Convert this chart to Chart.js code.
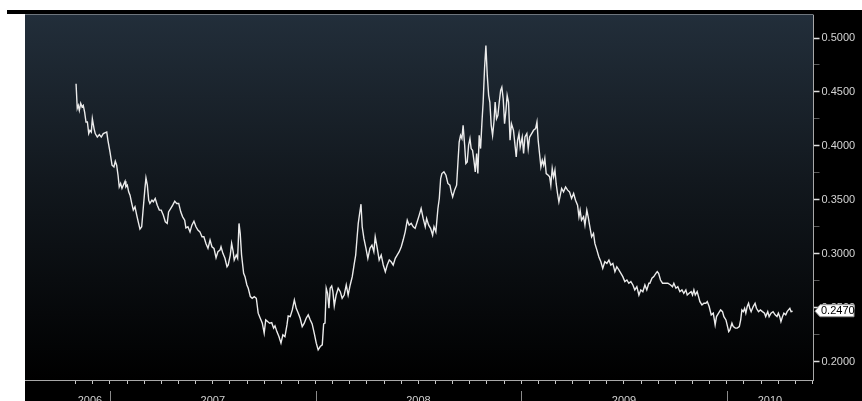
<!DOCTYPE html>
<html>
<head>
<meta charset="utf-8">
<script src="https://cdn.jsdelivr.net/npm/chart.js@4.4.1/dist/chart.umd.min.js"></script>
<style>
    html, body { margin: 0; padding: 0; background: #ffffff; overflow: hidden; }
    #wrap { position: relative; width: 862px; height: 412px; }
</style>
</head>
<body>
<div id="wrap"><canvas id="rate-chart"></canvas></div>
<script>
// x = months since Jan 2006, y = rate
const months = [
    10.02,10.09,10.15,10.21,10.29,10.37,10.44,10.52,10.60,10.68,10.76,10.83,10.91,10.97,11.07,11.14,11.26,11.38,11.49,11.61,
    11.73,11.81,11.88,12.00,12.12,12.23,12.31,12.39,12.47,12.54,12.62,12.70,12.78,12.88,12.93,13.01,13.09,13.17,13.27,13.36,
    13.46,13.56,13.65,13.75,13.85,13.94,14.04,14.10,14.18,14.26,14.33,14.45,14.53,14.64,14.76,14.88,14.99,15.11,15.23,15.34,
    15.42,15.54,15.66,15.78,15.89,16.01,16.13,16.24,16.36,16.43,16.55,16.67,16.78,16.90,17.02,17.13,17.25,17.37,17.48,17.60,
    17.72,17.84,17.95,18.07,18.19,18.30,18.42,18.48,18.59,18.71,18.83,18.90,19.02,19.10,19.19,19.25,19.37,19.45,19.53,19.60,
    19.68,19.80,19.88,19.99,20.07,20.19,20.30,20.42,20.54,20.65,20.77,20.89,21.00,21.09,21.20,21.32,21.44,21.55,21.63,21.74,
    21.86,21.98,22.09,22.21,22.33,22.40,22.52,22.64,22.76,22.87,22.99,23.10,23.22,23.34,23.45,23.57,23.69,23.80,23.92,24.04,
    24.15,24.27,24.39,24.47,24.55,24.62,24.70,24.78,24.85,24.94,25.01,25.09,25.20,25.32,25.44,25.55,25.67,25.79,25.90,26.02,
    26.14,26.26,26.34,26.41,26.49,26.57,26.65,26.72,26.82,26.94,27.05,27.17,27.29,27.40,27.48,27.60,27.71,27.83,27.95,28.07,
    28.18,28.30,28.41,28.53,28.65,28.76,28.88,29.00,29.11,29.23,29.35,29.46,29.58,29.70,29.81,29.93,30.05,30.16,30.28,30.40,
    30.48,30.60,30.71,30.83,30.91,31.02,31.14,31.22,31.30,31.37,31.49,31.61,31.72,31.84,31.92,32.00,32.11,32.23,32.31,32.38,
    32.46,32.54,32.61,32.70,32.77,32.85,32.93,33.01,33.08,33.16,33.24,33.32,33.40,33.47,33.55,33.63,33.71,33.78,33.86,33.94,
    34.02,34.10,34.17,34.25,34.33,34.41,34.48,34.56,34.64,34.72,34.80,34.87,34.95,35.03,35.11,35.18,35.26,35.35,35.43,35.55,
    35.63,35.71,35.79,35.87,35.94,36.06,36.14,36.22,36.33,36.41,36.49,36.61,36.72,36.84,36.92,36.99,37.07,37.15,37.23,37.31,
    37.38,37.46,37.58,37.66,37.73,37.81,37.89,37.97,38.04,38.12,38.20,38.28,38.36,38.47,38.59,38.71,38.82,38.94,39.06,39.17,
    39.29,39.37,39.44,39.52,39.64,39.72,39.83,39.91,39.99,40.11,40.22,40.30,40.42,40.53,40.65,40.76,40.88,41.00,41.12,41.23,
    41.35,41.47,41.58,41.70,41.82,41.93,42.05,42.17,42.28,42.40,42.52,42.63,42.75,42.87,42.98,43.10,43.22,43.33,43.45,43.51,
    43.63,43.74,43.86,43.94,44.02,44.13,44.25,44.40,44.56,44.72,44.83,44.91,45.03,45.14,45.26,45.38,45.49,45.61,45.69,45.80,
    45.92,46.00,46.08,46.16,46.27,46.35,46.43,46.55,46.66,46.78,46.86,46.97,47.09,47.21,47.32,47.40,47.52,47.64,47.75,47.83,
    47.95,48.02,48.11,48.18,48.30,48.38,48.50,48.61,48.73,48.81,48.88,48.96,49.04,49.11,49.19,49.27,49.34,49.42,49.54,49.65,
    49.73,49.85,49.96,50.08,50.20,50.27,50.39,50.47,50.58,50.70,50.82,50.93,51.01,51.09,51.16,51.25,51.33,51.44,51.52,51.60,
    51.68,51.75,51.84
];

const rates = [
    0.4577,0.4348,0.4376,0.4330,0.4395,0.4361,0.4376,0.4314,0.4222,0.4222,0.4115,0.4145,0.4129,0.4253,0.4161,0.4115,0.4083,0.4106,0.4083,0.4115,
    0.4124,0.4129,0.4053,0.3945,0.3822,0.3806,0.3859,0.3822,0.3729,0.3621,0.3653,0.3607,0.3637,0.3674,0.3621,0.3637,0.3575,0.3545,0.3468,0.3406,
    0.3436,0.3360,0.3298,0.3230,0.3252,0.3421,0.3607,0.3704,0.3637,0.3498,0.3468,0.3498,0.3483,0.3514,0.3452,0.3406,0.3406,0.3360,0.3298,0.3283,
    0.3390,0.3421,0.3452,0.3489,0.3468,0.3468,0.3390,0.3344,0.3313,0.3242,0.3252,0.3205,0.3267,0.3304,0.3252,0.3221,0.3205,0.3159,0.3159,0.3098,
    0.3052,0.3129,0.3067,0.3052,0.2965,0.3021,0.3036,0.3067,0.3006,0.2960,0.2882,0.2898,0.2990,0.3098,0.3021,0.2944,0.2990,0.2960,0.3283,0.3191,
    0.2990,0.2821,0.2790,0.2713,0.2683,0.2605,0.2590,0.2605,0.2590,0.2452,0.2405,0.2359,0.2267,0.2389,0.2374,0.2359,0.2364,0.2313,0.2334,0.2281,
    0.2235,0.2174,0.2251,0.2235,0.2343,0.2426,0.2420,0.2482,0.2574,0.2497,0.2452,0.2405,0.2327,0.2359,0.2405,0.2436,0.2389,0.2352,0.2267,0.2174,
    0.2112,0.2143,0.2158,0.2352,0.2359,0.2683,0.2636,0.2497,0.2683,0.2704,0.2651,0.2519,0.2620,0.2683,0.2651,0.2590,0.2620,0.2713,0.2620,0.2713,
    0.2790,0.2913,0.2990,0.3129,0.3283,0.3375,0.3461,0.3252,0.3144,0.3052,0.2960,0.3052,0.3082,0.3021,0.3159,0.3052,0.2944,0.2990,0.2898,0.2836,
    0.2898,0.2944,0.2928,0.2898,0.2960,0.2990,0.3021,0.3067,0.3129,0.3205,0.3313,0.3267,0.3283,0.3252,0.3237,0.3298,0.3360,0.3421,0.3329,0.3252,
    0.3329,0.3267,0.3237,0.3175,0.3252,0.3205,0.3421,0.3514,0.3699,0.3745,0.3760,0.3729,0.3653,0.3637,0.3575,0.3529,0.3591,0.3637,0.3852,0.4037,
    0.4099,0.4069,0.4191,0.4007,0.3838,0.3852,0.4007,0.4069,0.3976,0.3960,0.3868,0.3760,0.3930,0.3745,0.4099,0.3976,0.4222,0.4407,0.4715,0.4931,
    0.4653,0.4469,0.4407,0.4191,0.4099,0.4222,0.4407,0.4253,0.4284,0.4407,0.4515,0.4545,0.4438,0.4207,0.4330,0.4469,0.4407,0.4053,0.4207,0.4145,
    0.4022,0.3899,0.4053,0.4115,0.3991,0.4083,0.3930,0.4083,0.4115,0.3976,0.4083,0.4115,0.4145,0.4161,0.4222,0.4053,0.3930,0.3806,0.3868,0.3822,
    0.3884,0.3745,0.3729,0.3714,0.3637,0.3791,0.3714,0.3776,0.3653,0.3560,0.3483,0.3545,0.3607,0.3575,0.3621,0.3591,0.3575,0.3514,0.3560,0.3498,
    0.3452,0.3344,0.3406,0.3313,0.3344,0.3267,0.3406,0.3344,0.3267,0.3159,0.3191,0.3098,0.3036,0.2975,0.2928,0.2867,0.2928,0.2913,0.2944,0.2898,
    0.2913,0.2836,0.2882,0.2852,0.2821,0.2790,0.2744,0.2759,0.2729,0.2744,0.2713,0.2667,0.2697,0.2620,0.2667,0.2651,0.2713,0.2667,0.2729,0.2729,
    0.2775,0.2790,0.2821,0.2836,0.2821,0.2759,0.2729,0.2729,0.2729,0.2713,0.2697,0.2729,0.2683,0.2697,0.2651,0.2667,0.2636,0.2667,0.2620,0.2636,
    0.2651,0.2620,0.2667,0.2620,0.2651,0.2605,0.2559,0.2528,0.2544,0.2544,0.2559,0.2513,0.2436,0.2452,0.2343,0.2420,0.2452,0.2482,0.2466,0.2420,
    0.2389,0.2343,0.2281,0.2297,0.2359,0.2327,0.2313,0.2313,0.2327,0.2389,0.2482,0.2466,0.2497,0.2452,0.2513,0.2544,0.2497,0.2466,0.2513,0.2544,
    0.2497,0.2466,0.2482,0.2466,0.2452,0.2420,0.2466,0.2420,0.2452,0.2466,0.2436,0.2420,0.2452,0.2420,0.2374,0.2420,0.2452,0.2436,0.2466,0.2482,
    0.2497,0.2466,0.2470
];

// axis ticks and labels
const monthTicks = [10,11,12,13,14,15,16,17,18,19,20,21,22,23,24,25,26,27,28,29,30,31,
                    32,33,34,35,36,37,38,39,40,41,42,43,44,45,46,47,48,49,50,51,52,53];
const yearLabels = ['2006', '2007', '2008', '2009', '2010'];
const yearLabelPos = [10.83, 18, 30, 42, 50.52];
const yearStarts = [12, 24, 36, 48];
const yTicks = [0.200, 0.225, 0.250, 0.275, 0.300, 0.325, 0.350, 0.375, 0.400, 0.425, 0.450, 0.475, 0.500];

const font = { family: "'Liberation Sans', Arial, sans-serif", size: 11 };

function isMajor(v) {
    return Math.abs(v * 20 - Math.round(v * 20)) < 1e-6;
}

// background, year separators and last value flag
const terminalLook = {
    id: 'terminalLook',
    beforeDraw(chart) {
        const { ctx, chartArea: a, width, height } = chart;
        ctx.save();
        ctx.fillStyle = '#ffffff';
        ctx.fillRect(0, 0, width, height);
        ctx.fillStyle = '#000000';
        ctx.fillRect(7, 10, width - 7, 4);
        ctx.fillRect(a.left, 14, width - a.left, height - 14);
        const g = ctx.createLinearGradient(0, a.top, 0, a.bottom);
        g.addColorStop(0, '#222e3a');
        g.addColorStop(0.45, '#12181e');
        g.addColorStop(1, '#000000');
        ctx.fillStyle = g;
        ctx.fillRect(a.left, a.top, a.right - a.left, a.bottom - a.top);
        ctx.fillStyle = '#6f767d';
        ctx.fillRect(a.left, 14, a.right - a.left, 1);
        ctx.restore();
    },
    afterDraw(chart) {
        const { ctx } = chart;
        const xs = chart.scales.x;
        const ys = chart.scales.y;
        ctx.save();
        ctx.strokeStyle = '#8a8a8a';
        ctx.lineWidth = 1;
        yearStarts.forEach(function(m) {
            const px = Math.round(xs.getPixelForValue(m)) + 0.5;
            ctx.beginPath();
            ctx.moveTo(px, 391);
            ctx.lineTo(px, 412);
            ctx.stroke();
        });

        // flag for the last value, covering the 0.2500 label
        const last = rates[rates.length - 1];
        const py = ys.getPixelForValue(last);
        const left = chart.chartArea.right + 1.5;
        ctx.beginPath();
        ctx.moveTo(left, py);
        ctx.lineTo(left + 5, py - 6.5);
        ctx.lineTo(854, py - 6.5);
        ctx.lineTo(854, py + 5.5);
        ctx.lineTo(left + 5, py + 5.5);
        ctx.closePath();
        ctx.fillStyle = '#ffffff';
        ctx.fill();
        ctx.strokeStyle = '#9a9a9a';
        ctx.stroke();
        ctx.fillStyle = '#000000';
        ctx.font = "11px 'Liberation Sans', Arial, sans-serif";
        ctx.textAlign = 'left';
        ctx.textBaseline = 'middle';
        ctx.fillText(last.toFixed(4), left + 6, py);
        ctx.restore();
    }
};

new Chart(document.getElementById('rate-chart'), {
    type: 'line',
    data: {
        datasets: [{
            data: months.map(function(m, i) { return { x: m, y: rates[i] }; }),
            borderColor: '#ebebeb',
            borderWidth: 1.4,
            pointRadius: 0,
            tension: 0
        }]
    },
    options: {
        responsive: true,
        maintainAspectRatio: false,
        animation: false,
        layout: { padding: { left: 25, top: 15, right: 0, bottom: 0 } },
        plugins: {
            legend: { display: false },
            tooltip: { enabled: false }
        },
        scales: {
            x: {
                type: 'linear',
                min: 7.04,
                max: 53.06,
                afterFit: function(s) { s.height = 32; },
                afterBuildTicks: function(s) {
                    const vals = monthTicks.slice();
                    yearLabelPos.forEach(function(v) { if (!vals.includes(v)) vals.push(v); });
                    vals.sort(function(a, b) { return a - b; });
                    s.ticks = vals.map(function(v) { return { value: v }; });
                },
                ticks: {
                    autoSkip: false,
                    maxRotation: 0,
                    minRotation: 0,
                    padding: 10,
                    color: '#d0d0d0',
                    font: font,
                    callback: function(value) {
                        const i = yearLabelPos.indexOf(value);
                        return i >= 0 ? yearLabels[i] : '';
                    }
                },
                grid: {
                    drawOnChartArea: false,
                    tickLength: 4,
                    tickWidth: 1,
                    tickColor: function(c) {
                        return c.tick && monthTicks.includes(c.tick.value) ? '#c8c8c8' : 'rgba(0,0,0,0)';
                    }
                },
                border: { display: true, color: '#a8a8a8', width: 1 }
            },
            y: {
                position: 'right',
                min: 0.1833,
                max: 0.5213,
                afterFit: function(s) { s.width = 48.5; },
                afterBuildTicks: function(s) {
                    s.ticks = yTicks.map(function(v) { return { value: v }; });
                },
                ticks: {
                    padding: 2,
                    color: '#d4d4d4',
                    font: font,
                    callback: function(value) {
                        return isMajor(value) ? value.toFixed(4) : '';
                    }
                },
                grid: {
                    drawOnChartArea: false,
                    tickLength: 6,
                    tickWidth: function(c) { return c.tick && isMajor(c.tick.value) ? 1.5 : 1; },
                    tickColor: function(c) { return c.tick && isMajor(c.tick.value) ? '#e0e0e0' : '#5a5a5a'; }
                },
                border: { display: true, color: '#a8a8a8', width: 1 }
            }
        }
    },
    plugins: [terminalLook]
});
</script>
</body>
</html>
